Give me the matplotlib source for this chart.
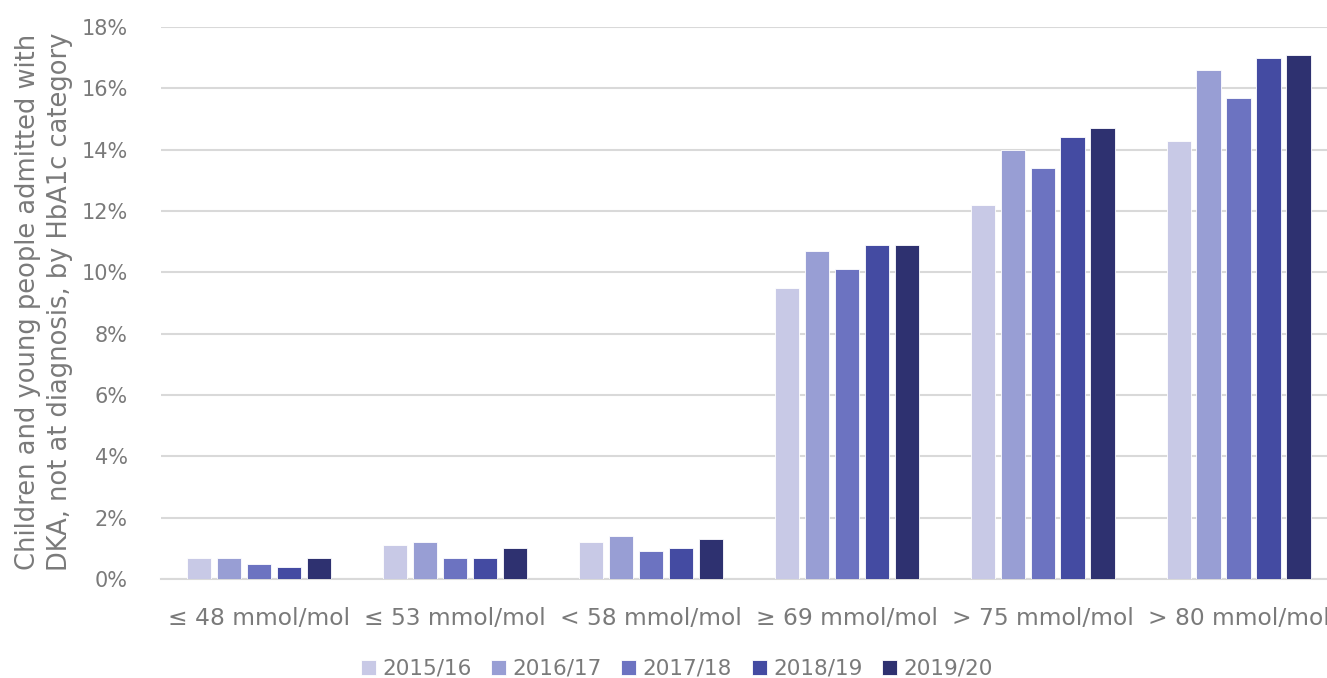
import numpy as np
import matplotlib
matplotlib.use("Agg")
import matplotlib.pyplot as plt

categories = ["≤ 48 mmol/mol", "≤ 53 mmol/mol", "< 58 mmol/mol",
              "≥ 69 mmol/mol", "> 75 mmol/mol", "> 80 mmol/mol"]
years = ["2015/16", "2016/17", "2017/18", "2018/19", "2019/20"]
v2015 = [0.7, 1.1, 1.2, 9.5, 12.2, 14.3]
v2016 = [0.7, 1.2, 1.4, 10.7, 14.0, 16.6]
v2017 = [0.5, 0.7, 0.9, 10.1, 13.4, 15.7]
v2018 = [0.4, 0.7, 1.0, 10.9, 14.4, 17.0]
v2019 = [0.7, 1.0, 1.3, 10.9, 14.7, 17.1]
series = [v2015, v2016, v2017, v2018, v2019]
colors = ["#C8C9E6", "#989ED4", "#6C73C1", "#444BA2", "#2E3170"]

plt.rcParams['font.family'] = ['DejaVu Sans']
grey = "#7a7a7a"

fig = plt.figure(figsize=(13.27, 6.78), dpi=100)
ax = fig.add_axes([0.1213, 0.146, 0.886, 0.814])

x = np.arange(len(categories))
step = 0.153
width = 0.125
for i, (vals, col, lab) in enumerate(zip(series, colors, years)):
    ax.bar(x + (i - 2) * step, vals, width, color=col, label=lab,
           edgecolor="white", linewidth=0.6, zorder=3)

ax.set_xlim(-0.5, len(categories) - 0.5)
ax.set_ylim(0, 18)
ax.set_yticks(np.arange(0, 19, 2))
ax.set_yticklabels([f"{v}%" for v in range(0, 19, 2)])
ax.set_xticks(x)
ax.set_xticklabels(categories)
ax.tick_params(axis="both", length=0, colors=grey)
ax.tick_params(axis="y", pad=24, labelsize=15)
ax.tick_params(axis="x", pad=20, labelsize=16.8)
ax.grid(axis="y", color="#d9d9d9", linewidth=1.5, zorder=0)
for s in ["top", "right", "left"]:
    ax.spines[s].set_visible(False)
ax.spines["bottom"].set_color("#d9d9d9")
ax.spines["bottom"].set_linewidth(1.5)

fig.text(0.033, 0.555, "Children and young people admitted with\nDKA, not at diagnosis, by HbA1c category",
         rotation=90, ha="center", va="center", fontsize=18.5, color=grey,
         linespacing=1.3)

fig.legend(loc="lower center", bbox_to_anchor=(0.51, -0.03), ncol=5, frameon=False,
           fontsize=15.5, handlelength=0.7, handleheight=0.7, handletextpad=0.3,
           columnspacing=0.9, labelcolor=grey)

fig.savefig("out.png", dpi=100)
